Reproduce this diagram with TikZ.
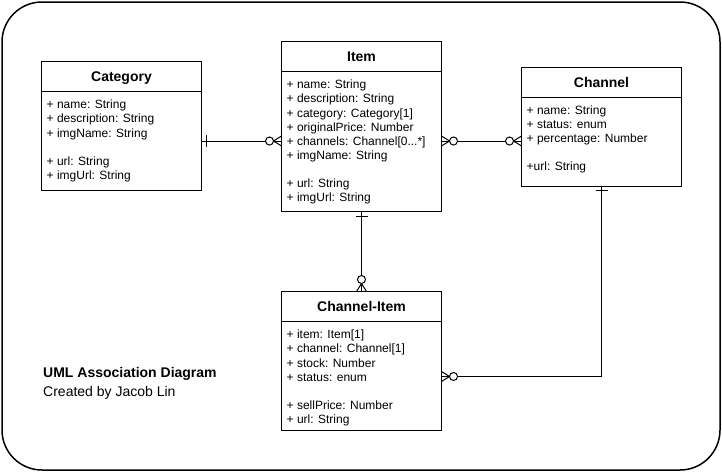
\documentclass[tikz,border=0pt]{standalone}
\usepackage{fontspec}
\setmainfont{Liberation Sans}
\usetikzlibrary{calc}
\tikzset{
  umlbox/.style={draw, line width=1pt, anchor=north west, inner sep=0pt, outer sep=0pt, minimum width=160pt},
  umltitle/.style={font=\bfseries\fontsize{14}{16}\selectfont, anchor=base, inner sep=0pt},
  umlattr/.style={font=\fontsize{12}{14.15}\selectfont, anchor=north west, inner sep=0pt, align=left},
  conn/.style={line width=1pt},
  note/.style={anchor=base west, inner sep=0pt},
}
\newcommand\ermany[3]{%
  \draw[conn] ($(#1)+({8*(#2)},{8*(#3)})$) -- ($(#1)+({-5*(#3)},{5*(#2)})$);
  \draw[conn] ($(#1)+({8*(#2)},{8*(#3)})$) -- ($(#1)+({5*(#3)},{-5*(#2)})$);
  \draw[conn,fill=white] ($(#1)+({12*(#2)},{12*(#3)})$) circle[radius=4];
}
\newcommand\erone[3]{%
  \draw[conn] ($(#1)+({4.5*(#2)-6*(#3)},{4.5*(#3)+6*(#2)})$) -- ($(#1)+({4.5*(#2)+6*(#3)},{4.5*(#3)-6*(#2)})$);
}
\begin{document}
\begin{tikzpicture}[x=1pt,y=-1pt]
\useasboundingbox (0,0) rectangle (722,472);
\node[draw, line width=1.5pt, rounded corners=40pt, minimum width=718pt, minimum height=468pt, inner sep=0pt, outer sep=0pt] (frame) at (361,236) {};

% Category
\node[umlbox, minimum height=129pt] (cat) at (41.5,61.5) {};
\draw[conn] ($(cat.north west)+(0,30)$) -- ($(cat.north east)+(0,30)$);
\node[umltitle] (catt) at ($(cat.north)+(0,20)$) {Category};
\node[umlattr] (cata) at ($(cat.north west)+(5,38.3)$) {+ name: String\\+ description: String\\+ imgName: String\\[14.15pt]+ url: String\\+ imgUrl: String};

% Item
\node[umlbox, minimum height=170pt] (item) at (281.5,41.5) {};
\draw[conn] ($(item.north west)+(0,30)$) -- ($(item.north east)+(0,30)$);
\node[umltitle] (itemt) at ($(item.north)+(0,20)$) {Item};
\node[umlattr] (itema) at ($(item.north west)+(5,38.3)$) {+ name: String\\+ description: String\\+ category: Category[1]\\+ originalPrice: Number\\+ channels: Channel[0...*]\\+ imgName: String\\[14.15pt]+ url: String\\+ imgUrl: String};

% Channel
\node[umlbox, minimum height=119pt] (channel) at (521.5,67) {};
\draw[conn] ($(channel.north west)+(0,30)$) -- ($(channel.north east)+(0,30)$);
\node[umltitle] (channelt) at ($(channel.north)+(0,20)$) {Channel};
\node[umlattr] (channela) at ($(channel.north west)+(5,38.3)$) {+ name: String\\+ status: enum\\+ percentage: Number\\[14.15pt]+url: String};

% Channel-Item
\node[umlbox, minimum height=139pt] (chitem) at (281.5,291.5) {};
\draw[conn] ($(chitem.north west)+(0,30)$) -- ($(chitem.north east)+(0,30)$);
\node[umltitle] (chitemt) at ($(chitem.north)+(0,20)$) {Channel-Item};
\node[umlattr] (chitema) at ($(chitem.north west)+(5,38.3)$) {+ item: Item[1]\\+ channel: Channel[1]\\+ stock: Number\\+ status: enum\\[14.15pt]+ sellPrice: Number\\+ url: String};

% connectors
\coordinate (r1) at (0,141);
\coordinate (r2) at (0,376.5);
\draw[conn] (cat.east |- r1) coordinate (e1) -- (item.west |- r1) coordinate (e2);
\draw[conn] (item.east |- r1) coordinate (e3) -- (channel.west |- r1) coordinate (e4);
\draw[conn] (item.south) -- (chitem.north);
\draw[conn] (channel.south) -- (channel.south |- r2) -- (chitem.east |- r2) coordinate (e5);

\erone{e1}{1}{0}
\ermany{e2}{-1}{0}
\ermany{e3}{1}{0}
\ermany{e4}{-1}{0}
\erone{item.south}{0}{1}
\ermany{chitem.north}{0}{-1}
\erone{channel.south}{0}{1}
\ermany{e5}{1}{0}

% labels
\node[note, font=\bfseries\fontsize{14}{16}\selectfont] (lbl1) at (43,377.7) {UML Association Diagram};
\node[note, font=\fontsize{14}{16}\selectfont] (lbl2) at (43,396.7) {Created by Jacob Lin};
\end{tikzpicture}
\end{document}
